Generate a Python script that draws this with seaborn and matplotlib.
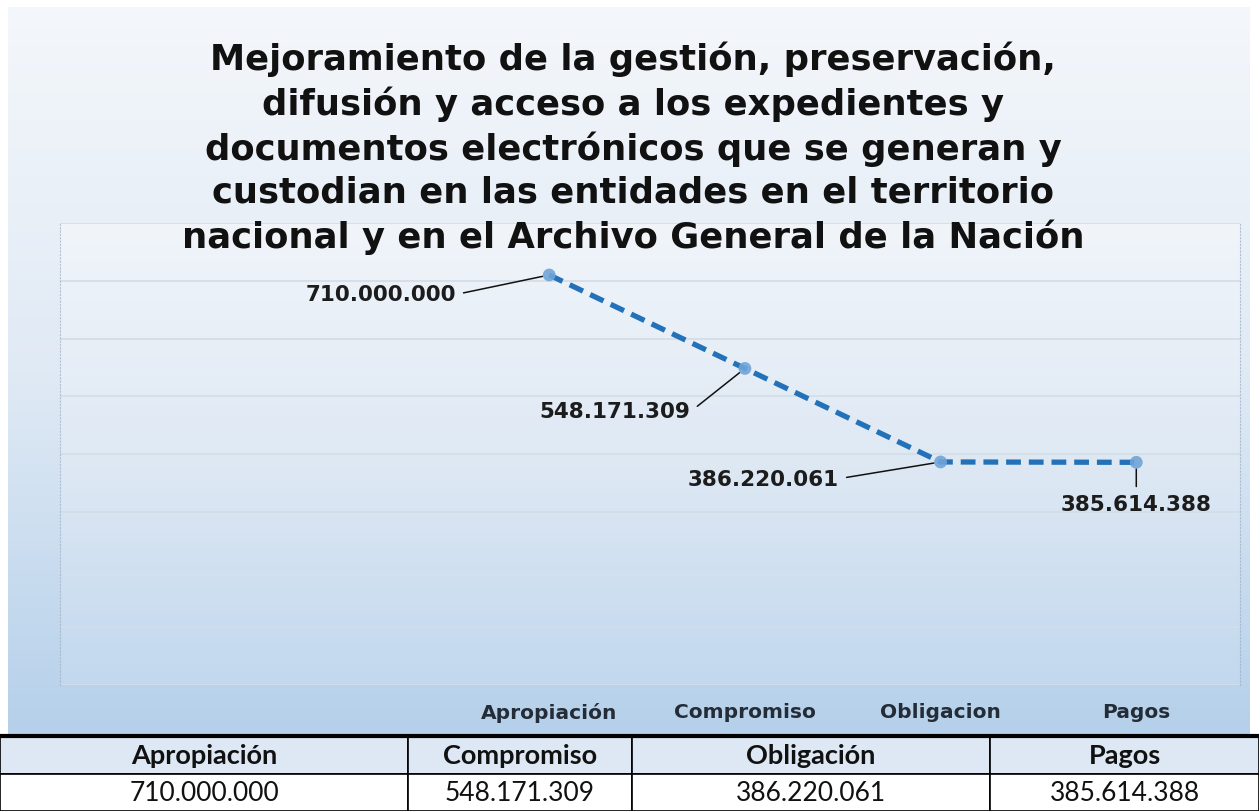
import numpy as np
import pandas as pd
import matplotlib
matplotlib.use("Agg")
import matplotlib.pyplot as plt
import seaborn as sns
from matplotlib.colors import LinearSegmentedColormap
from matplotlib.lines import Line2D

# ---------------- data ----------------
categories = ["Apropiación", "Compromiso", "Obligacion", "Pagos"]
table_headers = ["Apropiación", "Compromiso", "Obligación", "Pagos"]
values = [710000000, 548171309, 386220061, 385614388]
value_labels = ["710.000.000", "548.171.309", "386.220.061", "385.614.388"]
title_lines = [
    "Mejoramiento de la gestión, preservación,",
    "difusión y acceso a los expedientes y",
    "documentos electrónicos que se generan y",
    "custodian en las entidades en el territorio",
    "nacional y en el Archivo General de la Nación",
]

sns.set_theme(style="white")
plt.rcParams["font.family"] = ["Lato", "DejaVu Sans"]

W, H = 1259, 812
fig = plt.figure(figsize=(W / 100, H / 100), dpi=100)
fig.patch.set_facecolor("white")


def fx(px):
    return px / W


def fy(py):
    return 1 - py / H


grad = np.linspace(0, 1, 256).reshape(-1, 1)

# chart area background gradient
bg = fig.add_axes([fx(8), fy(737), (1250 - 8) / W, (737 - 8) / H])
cmap_bg = LinearSegmentedColormap.from_list("bg", ["#f4f7fb", "#e0eaf5", "#b5d0ea"])
bg.imshow(grad, aspect="auto", cmap=cmap_bg, extent=[0, 1, 0, 1], interpolation="bicubic")
bg.set_axis_off()

# plot-area background
pbg = fig.add_axes([fx(60), fy(686), 1180 / W, (686 - 224) / H])
cmap_p = LinearSegmentedColormap.from_list("pa", ["#f1f5fa", "#dfe9f4", "#c2d8ee"])
pbg.imshow(grad, aspect="auto", cmap=cmap_p, extent=[0, 1, 0, 1], interpolation="bicubic")
pbg.set_axis_off()

# main axes
ax = fig.add_axes([fx(60), fy(686), 1180 / W, (686 - 224) / H])
ax.patch.set_alpha(0)

df = pd.DataFrame({"pos": np.arange(len(categories)), "valor": values})
sns.lineplot(data=df, x="pos", y="valor", ax=ax, color="#2372b9", linewidth=3.8,
             linestyle=(0, (2.8, 1.5)), zorder=3)
sns.scatterplot(data=df, x="pos", y="valor", ax=ax, s=85, color="#6fa5d8",
                alpha=0.9, edgecolor="none", zorder=4)

ax.set_xlim(-2.5, 3.53)
ax.set_ylim(0, 800e6)
ax.set_yticks(np.arange(0, 800e6 + 1, 100e6))
ax.set_yticklabels([])
ax.yaxis.grid(True, color="#d3dee9", linewidth=1.3)
ax.xaxis.grid(False)
ax.set_xticks(df["pos"])
ax.set_xticklabels(categories, fontsize=14.5, fontweight="bold", color="#232c37",
                   family="DejaVu Sans")
ax.tick_params(axis="x", length=0, pad=12)
ax.tick_params(axis="y", length=0)
ax.set_xlabel("")
ax.set_ylabel("")
for s in ["top", "bottom"]:
    ax.spines[s].set_visible(False)
for s in ["left", "right"]:
    ax.spines[s].set_visible(True)
    ax.spines[s].set_color("#9aaec4")
    ax.spines[s].set_linestyle((0, (1, 2)))
    ax.spines[s].set_linewidth(0.8)
    ax.spines[s].set_alpha(0.7)

# data labels with leader lines (offsets in points)
offsets = [(-67, -14, "right", (1, 0.5)),
           (-39, -31, "right", (1, 0.5)),
           (-73, -12, "right", (1, 0.5)),
           (0, -30, "center", (0.5, 1))]
for i, (dx, dy, ha, rp) in enumerate(offsets):
    ax.annotate(value_labels[i], xy=(df["pos"][i], values[i]), xytext=(dx, dy),
                textcoords="offset points", ha=ha, va="center",
                fontsize=15.5, fontweight="bold", color="#1c1c1c",
                family="DejaVu Sans",
                arrowprops=dict(arrowstyle="-", color="#111111", lw=1.1,
                                shrinkA=3, shrinkB=5, relpos=rp),
                zorder=5)

# title
fig.text(0.503, fy(148), "\n".join(title_lines), ha="center", va="center",
         fontsize=25.5, fontweight="bold", color="#111111", linespacing=1.33,
         family="DejaVu Sans")

# table
tax = fig.add_axes([0, 0, 1, (H - 737) / H])
tax.set_axis_off()
col_w = np.array([408, 224, 358, 269]) / W
tbl = tax.table(cellText=[value_labels], colLabels=table_headers, cellLoc="center",
                colWidths=list(col_w), bbox=[0, 0, 1, 1])
tbl.auto_set_font_size(False)
for (r, c), cell in tbl.get_celld().items():
    cell.set_edgecolor("black")
    cell.set_linewidth(1.2)
    if r == 0:
        cell.set_facecolor("#dde8f4")
        cell.get_text().set_fontweight("bold")
        cell.get_text().set_fontsize(19.5)
    else:
        cell.set_facecolor("white")
        cell.get_text().set_fontsize(19)
    cell.get_text().set_color("#111111")

fig.add_artist(Line2D([0, 1], [fy(737), fy(737)], color="black", lw=3, transform=fig.transFigure))

fig.savefig("out.png", dpi=100, facecolor="white")
